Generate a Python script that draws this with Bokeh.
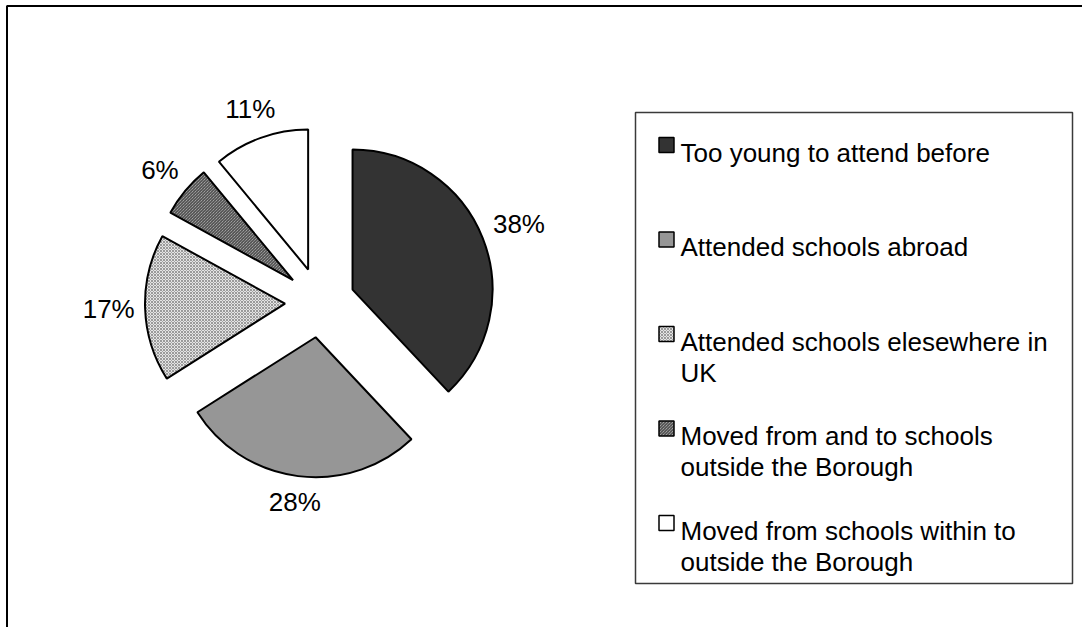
import math
from bokeh.plotting import figure
from bokeh.models import Range1d
from bokeh.embed import file_html
from bokeh.resources import INLINE
from bokeh.core.properties import value

# ---------------- data ----------------
categories = [
    "Too young to attend before",
    "Attended schools abroad",
    "Attended schools elesewhere in UK",
    "Moved from and to schools outside the Borough",
    "Moved from schools within to outside the Borough",
]
legend_lines = [
    ["Too young to attend before"],
    ["Attended schools abroad"],
    ["Attended schools elesewhere in", "UK"],
    ["Moved from and to schools", "outside the Borough"],
    ["Moved from schools within to", "outside the Borough"],
]
percentages = [38, 28, 17, 6, 11]

# ---------------- styles ----------------
fills = ["#333333", "#969696", "#e4e4e4", "#c4c4c4", "#ffffff"]
hatches = [None, None, "diagonal_cross", "left_diagonal_line", None]
hatch_colors = [None, None, "#9a9a9a", "#333333", None]
hatch_scales = [None, None, 3, 3, None]

W, H = 1082, 627
FONT = "Liberation Sans"
FS = 26

def Y(sy):
    return H - sy

p = figure(width=W, height=H, output_backend="svg", toolbar_location=None,
           x_range=Range1d(0, W), y_range=Range1d(0, H), min_border=0,
           x_axis_location=None, y_axis_location=None)
p.grid.visible = False
p.outline_line_color = None
p.background_fill_color = "white"
p.border_fill_color = "white"

# outer chart border (left and top visible)
p.line(x=[6.5, 6.5, W + 5], y=[-5, Y(5.5), Y(5.5)], line_color="black", line_width=2)

# ---------------- pie ----------------
CX, CY, R, EXPLODE, GAP = 319.5, 302, 140, 35, 10
total = float(sum(percentages))
cum = 0.0
for i, v in enumerate(percentages):
    a0 = cum / total * 360.0
    cum += v
    a1 = cum / total * 360.0
    mid = math.radians((a0 + a1) / 2)
    dx, dy = math.sin(mid), -math.cos(mid)
    ax, ay = CX + EXPLODE * dx, CY + EXPLODE * dy
    kw = dict(fill_color=fills[i], line_color="black", line_width=2)
    if hatches[i]:
        kw.update(hatch_pattern=hatches[i], hatch_color=hatch_colors[i],
                  hatch_scale=hatch_scales[i], hatch_weight=1)
    p.wedge(x=ax, y=Y(ay), radius=R,
            start_angle=math.radians(90 - a1), end_angle=math.radians(90 - a0),
            direction="anticlock", **kw)
    lab = f"{v}%"
    tw = sum(0.889 if c == "%" else 0.556 for c in lab) * FS
    proj = 0.5 * (tw * abs(dx) + FS * abs(dy))
    d = R + GAP + proj
    p.text(x=[ax + d * dx], y=[Y(ay + d * dy)], text=[lab],
           text_font=value(FONT), text_font_size=f"{FS}px", text_color="black",
           text_align="center", text_baseline="middle")

# ---------------- legend ----------------
LEFT, RIGHT, TOP, BOTTOM = 635, 1072, 112, 583
p.quad(left=LEFT, right=RIGHT, top=Y(TOP), bottom=Y(BOTTOM),
       fill_color="white", line_color="#3a3a3a", line_width=1.5)
FIRST_BASE, STEP, LINE_H = 152, 94.5, 31
MX, MS, TX = 666, 15, 680
for i, lines in enumerate(legend_lines):
    base = FIRST_BASE + i * STEP
    kw = dict(fill_color=fills[i], line_color="black", line_width=1.5)
    if hatches[i]:
        kw.update(hatch_pattern=hatches[i], hatch_color=hatch_colors[i],
                  hatch_scale=hatch_scales[i], hatch_weight=1)
    p.rect(x=MX, y=Y(base - 7.5), width=MS, height=MS, **kw)
    for j, line in enumerate(lines):
        p.text(x=[TX], y=[Y(base + j * LINE_H)], text=[line],
               text_font=value(FONT), text_font_size=f"{FS}px", text_color="black",
               text_align="left", text_baseline="alphabetic")

open("out.html", "w").write(file_html(p, INLINE))
